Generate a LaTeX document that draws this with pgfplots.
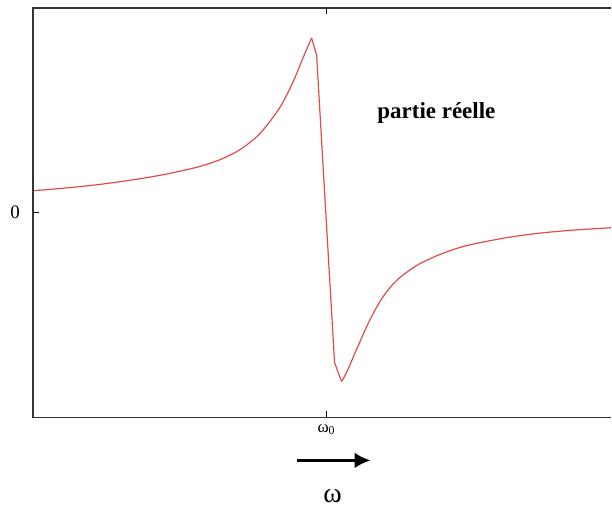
\documentclass[border=0pt]{standalone}
\usepackage{fontspec}
\setmainfont{Liberation Serif}
\usepackage{pgfplots}
\pgfplotsset{compat=1.18}
\usetikzlibrary{arrows.meta}
\definecolor{curve}{RGB}{225,75,75}
\begin{document}
\begin{tikzpicture}
\begin{axis}[
  x=0.5pt, y=0.5pt,
  xmin=33, xmax=612, ymin=-205, ymax=205,
  axis line style={draw=none},
  clip=false,
  xtick={327}, xticklabels={\fontsize{8.5}{8.5}\selectfont ω\textsubscript{0}},
  ytick={0}, yticklabels={\fontsize{9.5}{10}\selectfont 0},
  xtick pos=both, ytick pos=left,
  tick align=inside,
  major tick length=3pt,
  tick style={black, line width=0.6pt},
  /pgf/number format/assume math mode=true,
  yticklabel style={xshift=-3pt},
]
\addplot[color=curve, line width=0.6pt, smooth, tension=0.5] coordinates {
(33,22) (63,24.5) (97,28) (130,32.5) (163,38) (197,45.5) (220,53) (240,63)
(260,79) (280,105) (293,130) (303,154) (312,175)
};
\addplot[color=curve, line width=0.6pt] coordinates {
(312,175) (317,158) (335,-150) (342,-169)
};
\addplot[color=curve, line width=0.6pt, smooth, tension=0.5] coordinates {
(342,-169) (347,-160) (357,-137) (370,-108) (383,-85) (397,-68) (417,-53)
(440,-42) (467,-33) (507,-25) (540,-20.5) (573,-17.5) (612,-15)
};
\draw[black!80, line width=0.8pt] (axis cs:612,205) -- (axis cs:33,205) -- (axis cs:33,-205) -- (axis cs:612,-205);
\node[font=\bfseries\fontsize{11.5}{13}\selectfont] at (axis cs:437,100) {partie réelle};
\draw[black, line width=1.5pt, -{Latex[length=8pt,width=8pt]}] (axis cs:297,-248) -- (axis cs:371,-248);
\node[font=\fontsize{14}{14}\selectfont] at (axis cs:333,-284) {ω};
\path (axis cs:0,-297) rectangle (axis cs:612,213);
\end{axis}
\end{tikzpicture}
\end{document}
